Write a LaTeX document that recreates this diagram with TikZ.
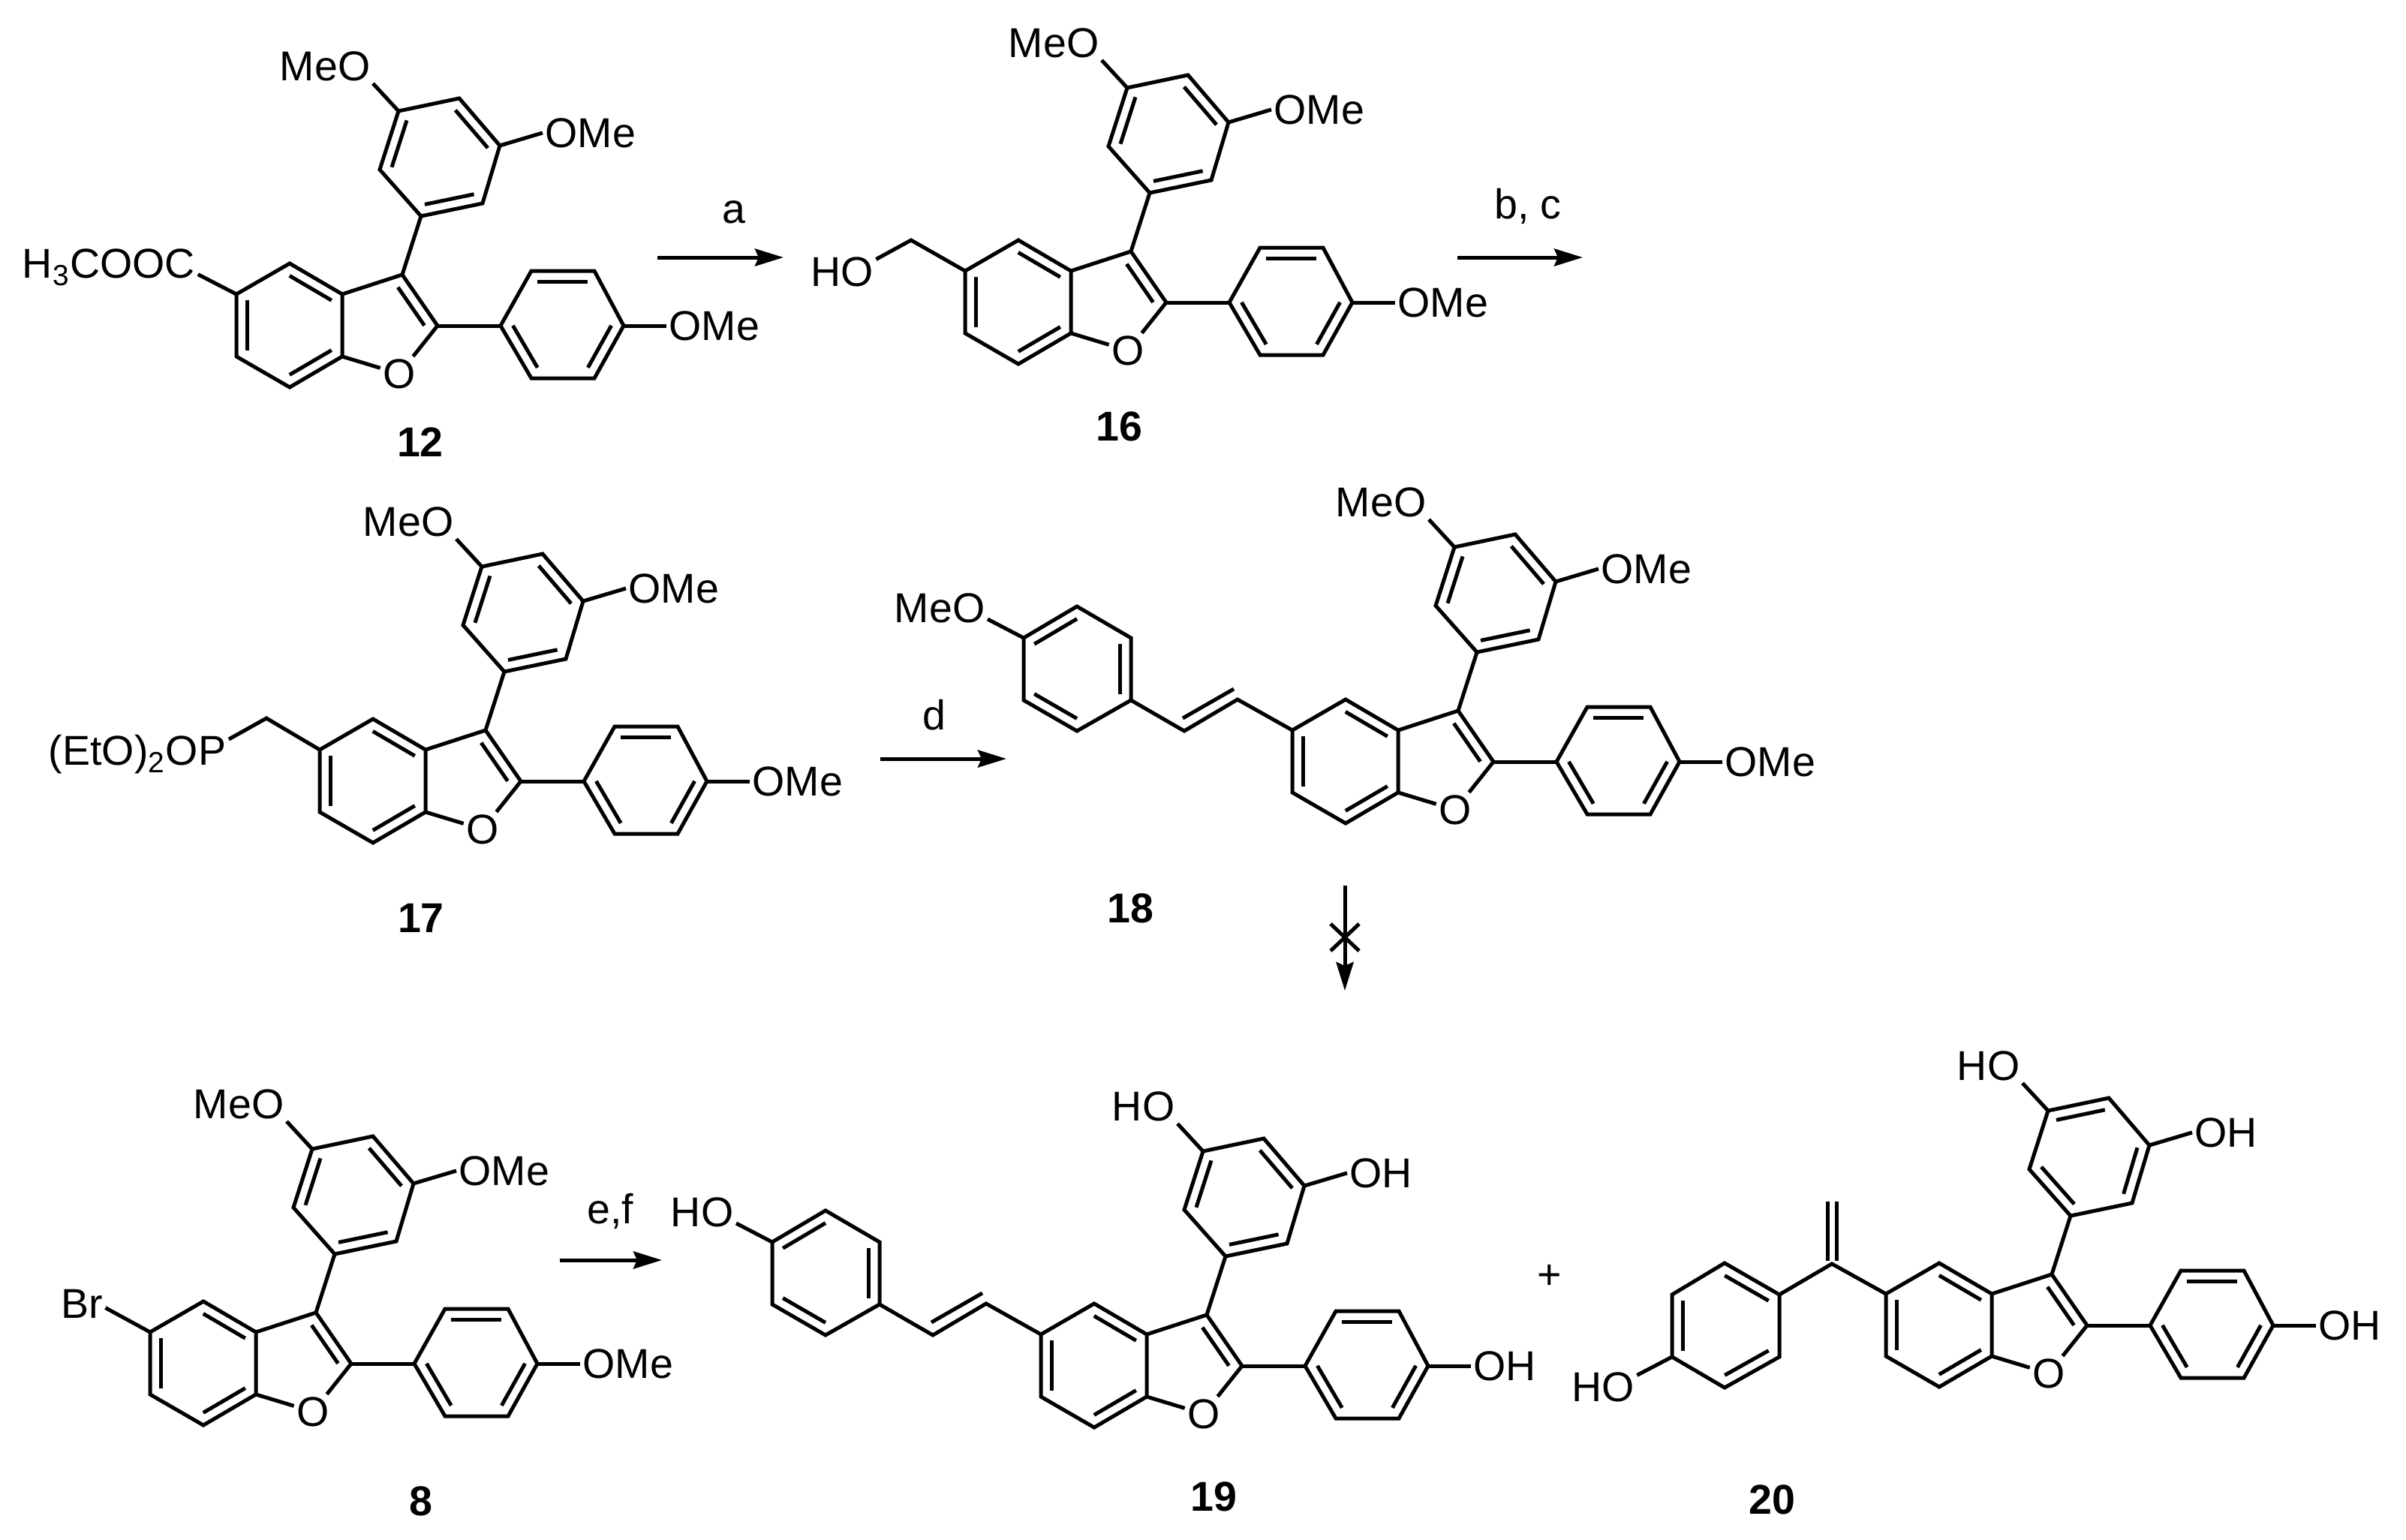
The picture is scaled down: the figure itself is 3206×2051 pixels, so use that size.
\documentclass[tikz,border=0pt]{standalone}
\usepackage{fontspec}
\setmainfont{Liberation Sans}
\usepackage{tikz}
\usetikzlibrary{arrows.meta}
\usetikzlibrary{calc}
\tikzset{bond/.style={line width=.05cm},
 atom/.style={inner sep=.03cm,text height=.39cm,text depth=0pt,font=\fontsize{15.8}{18}\selectfont},
 cmpd/.style={atom,font=\fontsize{15.8}{18}\selectfont\bfseries},
 rxn/.style={line width=.05cm,-{Stealth[length=.38cm,width=.23cm,inset=.05cm]}},
 }
\newcommand{\innerbond}[4][.2]{\draw[bond] ($(#2)!#1!(#4)$) -- ($(#3)!#1!(#4)$);}
\newcommand{\scaffold}[6]{
        \begin{scope}[shift={(#2)}]
        \foreach \n/\x/\y in {c5/0/0, c4/71/-41, c3a/141/0, c7a/141/83, c7/71/124, c6/0/83,
                c3/221/-26, c2/268/42, rf/198/41, rc/70/41,
                a1/352/42, a2/393/-31, a3/477/-31, a4/516/42, a5/477/112, a6/393/112, ra/434/41,
                b1/246/-104, b2/191/-166, b3/216/-244, b4/297/-261, b5/351/-198, b6/328/-121, rb/271/-182}
                \coordinate (#1\n) at (\x, \y);
        \node[atom] (#1o) at (217, 106) {O};
        \node[atom, anchor=east] (#1ul) at (182, -304) {#3};
        \node[atom, anchor=west] (#1ur) at (408, -215) {#4};
        \node[atom, anchor=west] (#1para) at (573, 42) {#5};
        \end{scope}
        \draw[bond] (#1c5) -- (#1c4) -- (#1c3a) -- (#1c7a) -- (#1c7) -- (#1c6) -- cycle;
        \draw[bond] (#1c3a) -- (#1c3) -- (#1c2) -- (#1o) -- (#1c7a);
        \draw[bond] (#1a1) -- (#1a2) -- (#1a3) -- (#1a4) -- (#1a5) -- (#1a6) -- cycle;
        \draw[bond] (#1b1) -- (#1b2) -- (#1b3) -- (#1b4) -- (#1b5) -- (#1b6) -- cycle;
        \draw[bond] (#1c2) -- (#1a1);
        \draw[bond] (#1c3) -- (#1b1);
        \draw[bond] (#1a4) -- (#1para);
        \draw[bond] (#1b3) -- (#1ul.south east);
        \draw[bond] (#1b5) -- (#1ur.west);
        \innerbond{#1c4}{#1c3a}{#1rc}
        \innerbond{#1c5}{#1c6}{#1rc}
        \innerbond{#1c7}{#1c7a}{#1rc}
        \innerbond[.25]{#1c3}{#1c2}{#1rf}
        \innerbond{#1a2}{#1a3}{#1ra}
        \innerbond{#1a1}{#1a6}{#1ra}
        \innerbond{#1a4}{#1a5}{#1ra}
        \foreach \u/\v in {#6} {\innerbond{#1\u}{#1\v}{#1rb}}
}
\newcommand{\styryl}[3]{
        \begin{scope}[shift={(#2)}]
        \foreach \n/\x/\y in {v1/-73/-41, v2/-144/1, r1/-215/-40, r2/-215/-123, r3/-287/-165,
                r4/-358/-123, r5/-358/-40, r6/-287/1, rr/-287/-82}
                \coordinate (#1\n) at (\x, \y);
        \node[atom, anchor=east] (#1lab) at (-406, -163) {#3};
        \end{scope}
        \draw[bond] (#1c5) -- (#1v1) -- (#1v2) -- (#1r1);
        \draw[bond] ($(#1v2)+(-2, -17)$) -- ($(#1v1)+(-5, -14)$);
        \draw[bond] (#1r1) -- (#1r2) -- (#1r3) -- (#1r4) -- (#1r5) -- (#1r6) -- cycle;
        \draw[bond] (#1r4) -- ($(#1lab.east)+(0, 15)$);
        \innerbond{#1r3}{#1r4}{#1rr}
        \innerbond{#1r1}{#1r2}{#1rr}
        \innerbond{#1r5}{#1r6}{#1rr}
}

\begin{document}
\begin{tikzpicture}[x=.01cm, y=-.01cm]
        \useasboundingbox (0, 0) rectangle (3206, 2051);

        \scaffold{m}{315, 392}{MeO}{OMe}{OMe}{b2/b3, b4/b5, b6/b1}
        \node[atom] (ester) at (145, 351) {H\textsubscript{3}COOC};
        \draw[bond] (mc5) -- (ester.-7);
        \node[cmpd] (n12) at (560, 589) {12};

        \coordinate (aS) at (876, 343);
        \coordinate (aE) at (1044, 343);
        \draw[rxn] (aS) -- (aE);
        \node[atom] (la) at (978, 278) {a};

        \scaffold{h}{1286, 361}{MeO}{OMe}{OMe}{b2/b3, b4/b5, b6/b1}
        \coordinate (hch) at (1214, 320);
        \node[atom] (hoh) at (1122, 362) {HO};
        \draw[bond] (hc5) -- (hch) -- (hoh.20);
        \node[cmpd] (n16) at (1491, 568) {16};

        \coordinate (bS) at (1942, 343);
        \coordinate (bE) at (2109, 343);
        \draw[rxn] (bS) -- (bE);
        \node[atom] (lb) at (2036, 272) {b, c};

        \scaffold{p}{426, 999}{MeO}{OMe}{OMe}{b2/b3, b4/b5, b6/b1}
        \coordinate (pch) at (355, 957);
        \node[atom] (phos) at (183, 1000) {(EtO)\textsubscript{2}OP};
        \draw[bond] (pc5) -- (pch) -- (phos.7);
        \node[cmpd] (n17) at (561, 1223) {17};

        \coordinate (dS) at (1173, 1011);
        \coordinate (dE) at (1341, 1011);
        \draw[rxn] (dS) -- (dE);
        \node[atom] (ld) at (1245, 953) {d};

        \scaffold{s}{1722, 973}{MeO}{OMe}{OMe}{b2/b3, b4/b5, b6/b1}
        \styryl{s}{1722, 973}{MeO}
        \node[cmpd] (n18) at (1506, 1210) {18};

        \coordinate (xS) at (1792, 1180);
        \coordinate (xE) at (1792, 1320);
        \coordinate (xA) at (1773, 1231);
        \coordinate (xB) at (1811, 1267);
        \coordinate (xC) at (1811, 1231);
        \coordinate (xD) at (1773, 1267);
        \draw[rxn] (xS) -- (xE);
        \draw[bond] (xA) -- (xB);
        \draw[bond] (xC) -- (xD);

        \scaffold{b}{200, 1775}{MeO}{OMe}{OMe}{b2/b3, b4/b5, b6/b1}
        \node[atom] (br) at (109, 1737) {Br};
        \draw[bond] (bc5) -- (br.-10);
        \node[cmpd] (n8) at (561, 2000) {8};

        \coordinate (eS) at (746, 1679);
        \coordinate (eE) at (882, 1679);
        \draw[rxn] (eS) -- (eE);
        \node[atom] (le) at (813, 1611) {e,f};

        \scaffold{t}{1387, 1778}{HO}{OH}{OH}{b2/b3, b4/b5, b6/b1}
        \styryl{t}{1387, 1778}{HO}
        \node[cmpd] (n19) at (1617, 1994) {19};

        \node[atom] (plus) at (2065, 1698) {+};

        \scaffold{g}{2513, 1724}{HO}{OH}{OH}{b3/b4, b5/b6, b1/b2}
        \coordinate (gv) at (2441, 1684);
        \coordinate (gt) at (2441, 1601);
        \foreach \n/\x/\y in {l1/2371/1725, l2/2298/1683, l3/2228/1725, l4/2228/1808, l5/2298/1849, l6/2371/1808, lc/2299/1766}
                \coordinate (g\n) at (\x, \y);
        \draw[bond] (gc5) -- (gv) -- (gl1);
        \draw[bond] ($(gv)+(-6, -4)$) -- ($(gt)+(-6, 0)$);
        \draw[bond] ($(gv)+(6, -4)$) -- ($(gt)+(6, 0)$);
        \draw[bond] (gl1) -- (gl2) -- (gl3) -- (gl4) -- (gl5) -- (gl6) -- cycle;
        \innerbond{gl1}{gl2}{glc}
        \innerbond{gl3}{gl4}{glc}
        \innerbond{gl5}{gl6}{glc}
        \node[atom] (gho) at (2136, 1848) {HO};
        \draw[bond] (gl4) -- (gho.19);
        \node[cmpd] (n20) at (2361, 1998) {20};
\end{tikzpicture}
\end{document}
